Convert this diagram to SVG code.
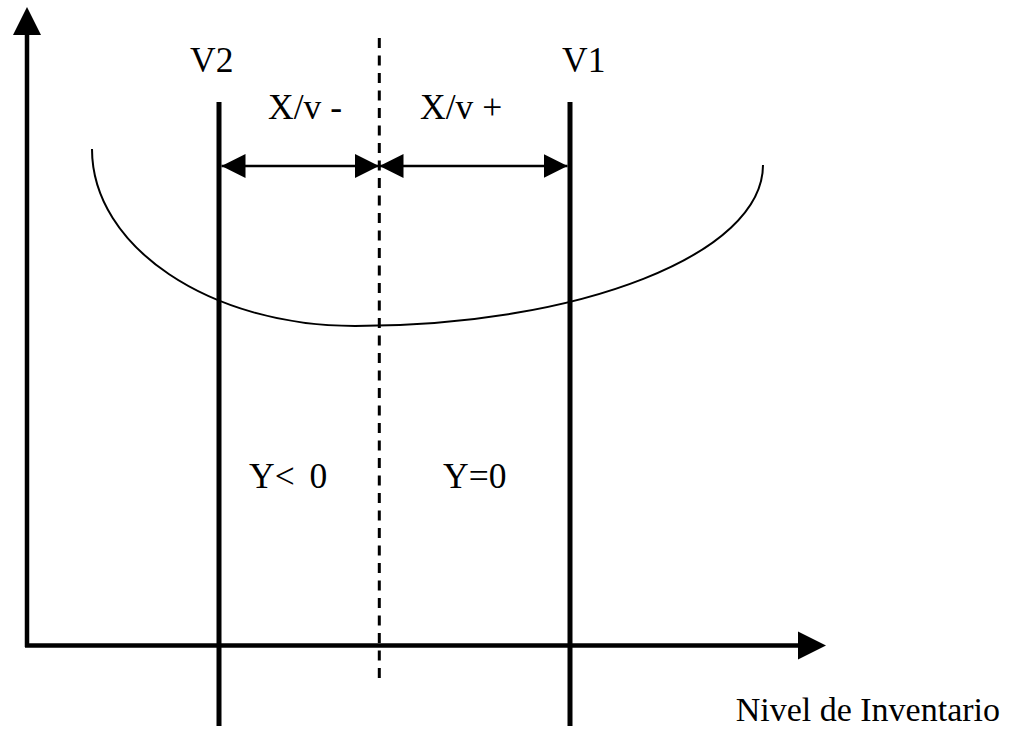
<svg xmlns="http://www.w3.org/2000/svg" width="1011" height="733" viewBox="0 0 1011 733">
<style>
.t{font-family:"Liberation Serif","Times New Roman",serif;font-size:35.5px;fill:#000}
.n{font-family:"Liberation Serif","Times New Roman",serif;font-size:34px;fill:#000}
.ax{stroke:#000;stroke-width:4.5;fill:none}
.v{stroke:#000;stroke-width:5;fill:none}
.dim{stroke:#000;stroke-width:2.5;fill:none}
</style>
<defs>
<marker id="ah" markerUnits="userSpaceOnUse" markerWidth="24" markerHeight="24" viewBox="0 0 22 22" refX="22" refY="11" orient="auto-start-reverse">
<path d="M0,0 L22,11 L0,22 Z" fill="#000"/>
</marker>
</defs>
<rect width="1011" height="733" fill="#fff"/>
<g id="axes">
<line class="ax" x1="27" y1="32" x2="27" y2="647"/>
<polygon points="27,7 13,35 41,35" fill="#000"/>
<line class="ax" x1="25" y1="645.5" x2="802" y2="645.5"/>
<polygon points="826,645.5 798,631.5 798,659.5" fill="#000"/>
</g>
<g id="v2">
<line class="v" x1="219" y1="102" x2="219" y2="726"/>
<text class="t" x="190" y="72">V2</text>
</g>
<g id="v1">
<line class="v" x1="570" y1="102" x2="570" y2="726"/>
<text class="t" x="562" y="72">V1</text>
</g>
<g id="center">
<line x1="379.3" y1="38" x2="379.3" y2="680" stroke="#000" stroke-width="3" stroke-dasharray="10,7.5"/>
</g>
<g id="curve">
<path d="M92,149 C92,247 210,326 355,326 C580,326 763,254 763,165" fill="none" stroke="#000" stroke-width="2"/>
</g>
<g id="connectors">
<line class="dim" x1="221.5" y1="166" x2="379" y2="166" marker-start="url(#ah)" marker-end="url(#ah)"/>
<line class="dim" x1="379.5" y1="166" x2="567.5" y2="166" marker-start="url(#ah)" marker-end="url(#ah)"/>
</g>
<g id="labels">
<text class="t" x="268" y="119">X/v -</text>
<text class="t" x="420" y="119">X/v +</text>
<text class="t" x="249" y="488" word-spacing="6">Y&lt; 0</text>
<text class="t" x="443" y="488">Y=0</text>
<text class="n" x="1000" y="721" text-anchor="end">Nivel de Inventario</text>
</g>
</svg>
